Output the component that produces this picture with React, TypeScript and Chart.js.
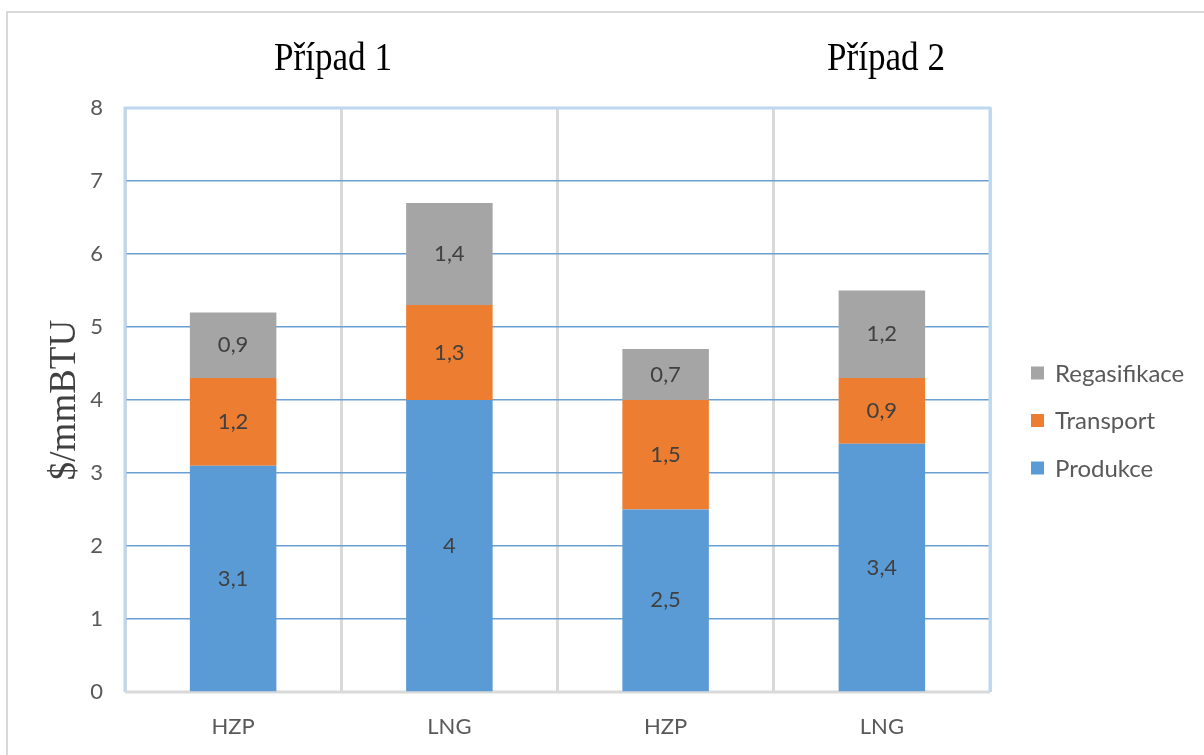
import React, { useEffect, useRef } from "react";
import { Chart, registerables } from "chart.js";
Chart.register(...registerables);

const categories = ["HZP", "LNG", "HZP", "LNG"];
const produkce = [3.1, 4, 2.5, 3.4];
const transport = [1.2, 1.3, 1.5, 0.9];
const regasifikace = [0.9, 1.4, 0.7, 1.2];
const seriesNames = ["Produkce", "Transport", "Regasifikace"];
const seriesColors = ["#5B9BD5", "#ED7D31", "#A5A5A5"];
const groupTitles = ["Případ 1", "Případ 2"];
const yAxisTitle = "$/mmBTU";
const yMin = 0;
const yMax = 8;
const yStep = 1;

const SANS = "Lato, 'Open Sans', sans-serif";
const SERIF = "'Liberation Serif', 'DejaVu Serif', serif";

const decorPlugin = {
  id: "decor",
  beforeDraw(chart: any) {
    const ctx = chart.ctx;
    ctx.save();
    ctx.strokeStyle = "#d9d9d9";
    ctx.lineWidth = 2;
    ctx.strokeRect(7, 12, chart.width + 20, chart.height + 20);
    ctx.restore();
  },
  beforeDatasetsDraw(chart: any) {
    const { ctx, chartArea: a } = chart;
    ctx.save();
    ctx.strokeStyle = "#BDD7EE";
    ctx.lineWidth = 3;
    ctx.beginPath();
    ctx.moveTo(a.left, a.bottom);
    ctx.lineTo(a.left, a.top);
    ctx.lineTo(a.right, a.top);
    ctx.lineTo(a.right, a.bottom);
    ctx.stroke();
    ctx.strokeStyle = "#D9D9D9";
    ctx.beginPath();
    ctx.moveTo(a.left, a.bottom);
    ctx.lineTo(a.right, a.bottom);
    ctx.stroke();
    ctx.restore();
  },
  afterDraw(chart: any) {
    const { ctx, chartArea: a } = chart;
    ctx.save();
    // data labels
    ctx.font = `22px ${SANS}`;
    ctx.fillStyle = "#404040";
    ctx.textAlign = "center";
    ctx.textBaseline = "middle";
    chart.data.datasets.forEach((ds: any, di: number) => {
      const meta = chart.getDatasetMeta(di);
      meta.data.forEach((bar: any, i: number) => {
        const v = ds.data[i];
        const y = (bar.y + bar.base) / 2;
        ctx.fillText(String(v).replace(".", ","), bar.x, y);
      });
    });
    // group titles (slightly condensed serif)
    ctx.fillStyle = "#000";
    ctx.textBaseline = "alphabetic";
    ctx.font = `39px ${SERIF}`;
    const titleX = [333, 886];
    groupTitles.forEach((t, i) => {
      ctx.save();
      ctx.translate(titleX[i], 70);
      ctx.scale(0.9, 1);
      ctx.fillText(t, 0, 0);
      ctx.restore();
    });
    // y axis title
    ctx.save();
    ctx.translate(75, (a.top + a.bottom) / 2);
    ctx.rotate(-Math.PI / 2);
    ctx.font = `37px ${SERIF}`;
    ctx.fillStyle = "#404040";
    ctx.textAlign = "center";
    ctx.textBaseline = "alphabetic";
    ctx.fillText(yAxisTitle, 0, 0);
    ctx.restore();
    // legend (reversed order)
    ctx.font = `24px ${SANS}`;
    ctx.textAlign = "left";
    ctx.textBaseline = "middle";
    const n = chart.data.datasets.length;
    for (let k = 0; k < n; k++) {
      const di = n - 1 - k;
      const ds = chart.data.datasets[di];
      const cy = 373 + k * 47.5;
      ctx.fillStyle = ds.backgroundColor;
      ctx.fillRect(1031, cy - 6.5, 13, 13);
      ctx.fillStyle = "#595959";
      ctx.fillText(ds.label, 1055, cy + 1);
    }
    ctx.restore();
  },
};

export default function App() {
  const ref = useRef<HTMLCanvasElement>(null);
  useEffect(() => {
    document.body.style.margin = "0";
    const values = [produkce, transport, regasifikace];
    const chart = new Chart(ref.current!, {
      type: "bar",
      data: {
        labels: categories,
        datasets: values.map((d, i) => ({
          label: seriesNames[i],
          data: d,
          backgroundColor: seriesColors[i],
          barPercentage: 0.4,
          categoryPercentage: 1,
        })),
      },
      options: {
        animation: false,
        responsive: false,
        layout: { padding: { top: 108, right: 214, left: 0, bottom: 0 } },
        plugins: { legend: { display: false }, tooltip: { enabled: false } },
        scales: {
          x: {
            stacked: true,
            offset: true,
            grid: {
              offset: true,
              color: "#D9D9D9",
              lineWidth: 3,
              drawTicks: false,
            },
            border: { display: false },
            ticks: { color: "#595959", font: { size: 22, family: SANS }, padding: 22 },
            afterFit: (s: any) => { s.height = 63; },
          },
          y: {
            stacked: true,
            min: yMin,
            max: yMax,
            grid: {
              color: (c: any) => (c.tick && (c.tick.value === yMin || c.tick.value === yMax) ? "rgba(0,0,0,0)" : "#6A9FD6"),
              lineWidth: 1.5,
              drawTicks: false,
            },
            border: { display: false },
            ticks: { stepSize: yStep, color: "#595959", font: { size: 22, family: SANS }, padding: 22 },
            afterFit: (s: any) => { s.width = 125; },
          },
        },
      },
      plugins: [decorPlugin],
    });
    return () => chart.destroy();
  }, []);
  return (
    <div style={{ width: 1204, height: 755, overflow: "hidden", background: "#fff" }}>
      <canvas ref={ref} width={1204} height={755} />
    </div>
  );
}
